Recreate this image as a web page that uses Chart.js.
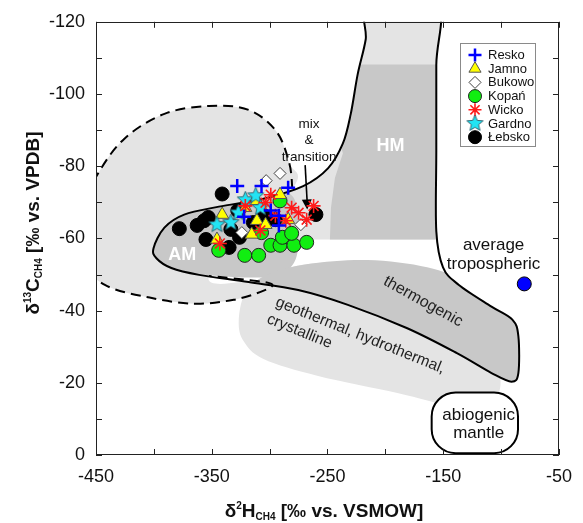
<!DOCTYPE html>
<html>
<head>
<meta charset="utf-8">
<script src="https://cdn.jsdelivr.net/npm/chart.js@4.4.0/dist/chart.umd.min.js"></script>
<style>
  html, body { margin: 0; padding: 0; background: #fff; }
  #wrap { width: 583px; height: 523px; }
</style>
</head>
<body>
<div id="wrap"><canvas id="c" width="583" height="523"></canvas></div>
<script>
// Axis tick labels
const xTickLabels = ['-450', '-350', '-250', '-150', '-50'];
const yTickLabels = ['-120', '-100', '-80', '-60', '-40', '-20', '0'];

// Sampling sites: [δ2H, δ13C]
const seriesNames = ['Resko', 'Jamno', 'Bukowo', 'Kopań', 'Wicko', 'Gardno', 'Łebsko'];
const resko  = [[-328, -74.5], [-307, -74.5], [-284, -74], [-322, -66], [-299, -67.7], [-292, -66.3], [-292, -63.6]];
const jamno  = [[-341, -66.6], [-311, -70.4], [-291, -72.1], [-315.5, -61.1], [-345.5, -59.7], [-311, -64.9], [-303.5, -63.8], [-284, -65.2], [-321, -68.5]];
const bukowo = [[-303, -76], [-291, -78], [-324, -61.6], [-273, -63.8]];
const kopan  = [[-344, -56.7], [-321.5, -55.3], [-309.5, -55.3], [-299, -58.1], [-291, -58.1], [-289, -60.3], [-279, -58.1], [-268, -58.9], [-291, -70.4], [-281, -61.4], [-307, -61.6]];
const wicko  = [[-321, -69], [-299, -72.1], [-303.5, -69.9], [-295, -66.3], [-286, -64.9], [-308, -62.2], [-281, -68.5], [-275, -67.1], [-262, -69], [-268, -65.2], [-343, -58.6]];
const gardno = [[-345.5, -63.8], [-333.5, -64.4], [-321, -70.7], [-312, -71.8], [-327, -67.1], [-308, -68.5]];
const lebsko = [[-341, -72.3], [-378, -62.7], [-362.6, -63.6], [-356.6, -64.9], [-353, -65.8], [-355, -59.7], [-333.5, -62.5], [-335, -57.5], [-327.5, -67.7], [-326, -60.3], [-305, -66.3], [-295, -65.2], [-260, -66.6], [-314, -64.4]];
const troposphere = [[-80, -47.4]];

// Genetic fields, outlined in (δ2H, δ13C)
const mainField = [[-400.3, -57.3], [-390.9, -63], [-373.8, -66.6], [-343.8, -68.8], [-305.3, -71], [-271, -74.5], [-249.6, -79.4], [-236.7, -86.3], [-229.9, -94.5], [-223.9, -105.5], [-217, -115.1], [-214, -125], [-156, -125], [-156, -108], [-156, -84], [-156, -62], [-150.2, -52], [-136.5, -47.1], [-108.3, -41.1], [-90.3, -37.5], [-85.1, -32.9], [-85.1, -22.7], [-91.1, -20.3], [-108.3, -22.7], [-138.2, -28.2], [-181.1, -35.1], [-232.4, -41.6], [-275.3, -45.7], [-318.1, -47.9], [-360.9, -49.9], [-384.9, -51.8], [-397.8, -54.5]];
const dashedField = [[-280.4, -73.7], [-283, -80.8], [-294.1, -89.6], [-318.1, -95.6], [-352.4, -96.7], [-390.9, -94.5], [-425.2, -87.7], [-449.1, -77.5], [-470.6, -63], [-468, -54.8], [-442.3, -47.1], [-403.7, -43.6], [-365.2, -41.9], [-331, -43], [-307.8, -45.2], [-297.5, -47.1], [-311.2, -48.2], [-352.4, -49.6]];
const geoField = [[-326.7, -37], [-321.5, -44.6], [-305.3, -49.3], [-266.7, -52.9], [-206.8, -52.9], [-151.1, -46.6], [-112.5, -34.2], [-100.5, -20.5], [-110.8, -14.2], [-142.5, -13.7], [-189.6, -17.2], [-258.1, -21.9], [-305.3, -26.6], [-322.4, -31.5]];
const mixZone = [[-292.4, -125], [-146.8, -125], [-146.8, -59.7], [-292.4, -59.7]];
const hmCore = [[-258.1, -108.2], [-146.8, -108.2], [-146.8, -59.7], [-247.9, -59.7], [-247, -68.5], [-243.6, -76.7], [-236.7, -83.6]];
const amCore = [[-408, -57.5], [-386.6, -65.7], [-335.2, -69.9], [-283.8, -72.6], [-275.3, -61.6], [-279.6, -52.9], [-301, -49.3], [-360.9, -50.1], [-395.2, -52.9]];
const thermoTop = [[-318.1, -46.6], [-301, -50.1], [-266.7, -52.9], [-215.3, -54], [-163.9, -52], [-129.7, -47.9], [-104, -42.5], [-74, -37]];
const thermoBase = [[-74, -16.4], [-318.1, -16.4]];
const mantleBox = [[-160, -17.3], [-85.4, -0.5]];
const mixArrow = [[-269.3, -80.3], [-267.5, -68]];

const FONT = 'Arial, "Liberation Sans", sans-serif';
const LIGHT = '#e4e4e4';
const DARK = '#c8c8c8';

function toPx(chart, p) {
  return [chart.scales.x.getPixelForValue(p[0]), chart.scales.y.getPixelForValue(p[1])];
}

function traceSpline(ctx, P, closed, startNew) {
  const n = P.length;
  if (startNew) ctx.moveTo(P[0][0], P[0][1]); else ctx.lineTo(P[0][0], P[0][1]);
  const segs = closed ? n : n - 1;
  for (let i = 0; i < segs; i++) {
    const p0 = P[closed ? (i - 1 + n) % n : Math.max(i - 1, 0)];
    const p1 = P[i];
    const p2 = P[(i + 1) % n];
    const p3 = P[closed ? (i + 2) % n : Math.min(i + 2, n - 1)];
    ctx.bezierCurveTo(
      p1[0] + (p2[0] - p0[0]) / 6, p1[1] + (p2[1] - p0[1]) / 6,
      p2[0] - (p3[0] - p1[0]) / 6, p2[1] - (p3[1] - p1[1]) / 6,
      p2[0], p2[1]);
  }
  if (closed) ctx.closePath();
}

function tracePoly(ctx, P) {
  ctx.moveTo(P[0][0], P[0][1]);
  for (let i = 1; i < P.length; i++) ctx.lineTo(P[i][0], P[i][1]);
  ctx.closePath();
}

function richLine(ctx, parts, cx, baseY) {
  let total = 0;
  parts.forEach(p => {
    ctx.font = 'bold ' + p.size + 'px ' + FONT;
    p.w = ctx.measureText(p.t).width;
    total += p.w;
  });
  let x = cx - total / 2;
  ctx.textAlign = 'left';
  ctx.textBaseline = 'alphabetic';
  parts.forEach(p => {
    ctx.font = 'bold ' + p.size + 'px ' + FONT;
    ctx.fillText(p.t, x, baseY + (p.dy || 0));
    x += p.w;
  });
}

// Cyan five-pointed star marker
function makeStar(r, fill, stroke) {
  const c = document.createElement('canvas');
  const s = Math.ceil(r * 2 + 4);
  c.width = s; c.height = s;
  const g = c.getContext('2d');
  g.beginPath();
  for (let i = 0; i < 10; i++) {
    const a = -Math.PI / 2 + i * Math.PI / 5;
    const rr = i % 2 === 0 ? r : r * 0.45;
    const x = s / 2 + rr * Math.cos(a), y = s / 2 + rr * Math.sin(a);
    if (i === 0) g.moveTo(x, y); else g.lineTo(x, y);
  }
  g.closePath();
  g.fillStyle = fill; g.fill();
  g.lineWidth = 0.9; g.strokeStyle = stroke; g.stroke();
  return c;
}
const starImg = makeStar(8.5, '#22e4f4', '#2a5a66');

const fieldsPlugin = {
  id: 'fields',
  beforeDatasetsDraw(chart) {
    const ctx = chart.ctx, a = chart.chartArea;
    const px = arr => arr.map(p => toPx(chart, p));
    ctx.save();
    ctx.beginPath(); ctx.rect(a.left, a.top, a.right - a.left, a.bottom - a.top); ctx.clip();

    // light fields
    ctx.fillStyle = LIGHT;
    ctx.beginPath(); traceSpline(ctx, px(dashedField), true, true); ctx.fill();
    ctx.beginPath(); traceSpline(ctx, px(geoField), true, true); ctx.fill();

    // shading inside the main outline
    ctx.save();
    ctx.beginPath(); traceSpline(ctx, px(mainField), true, true); ctx.clip();
    ctx.fillStyle = LIGHT;
    ctx.beginPath(); tracePoly(ctx, px(mixZone)); ctx.fill();
    ctx.fillStyle = DARK;
    ctx.beginPath(); tracePoly(ctx, px(hmCore)); ctx.fill();
    ctx.beginPath(); traceSpline(ctx, px(amCore), true, true); ctx.fill();
    ctx.beginPath(); traceSpline(ctx, px(thermoTop), false, true);
    px(thermoBase).forEach(p => ctx.lineTo(p[0], p[1])); ctx.closePath(); ctx.fill();
    ctx.restore();

    // outlines
    ctx.lineWidth = 2;
    ctx.strokeStyle = '#000';
    ctx.lineJoin = 'round';
    ctx.beginPath(); traceSpline(ctx, px(mainField), true, true); ctx.stroke();
    ctx.setLineDash([10, 6]);
    ctx.beginPath(); traceSpline(ctx, px(dashedField), false, true); ctx.stroke();
    ctx.setLineDash([]);

    // abiogenic mantle box
    const b0 = toPx(chart, mantleBox[0]), b1 = toPx(chart, mantleBox[1]);
    ctx.beginPath();
    ctx.roundRect(b0[0], b0[1], b1[0] - b0[0], b1[1] - b0[1], 24);
    ctx.fillStyle = '#fff'; ctx.fill();
    ctx.lineWidth = 2; ctx.stroke();

    // mixing arrow
    const a0 = toPx(chart, mixArrow[0]), a1 = toPx(chart, mixArrow[1]);
    ctx.lineWidth = 1.6;
    ctx.beginPath(); ctx.moveTo(a0[0], a0[1]); ctx.lineTo(a1[0], a1[1] - 6); ctx.stroke();
    const ang = Math.atan2(a1[1] - a0[1], a1[0] - a0[0]);
    ctx.beginPath();
    ctx.moveTo(a1[0], a1[1]);
    ctx.lineTo(a1[0] - 10 * Math.cos(ang) + 5 * Math.sin(ang), a1[1] - 10 * Math.sin(ang) - 5 * Math.cos(ang));
    ctx.lineTo(a1[0] - 10 * Math.cos(ang) - 5 * Math.sin(ang), a1[1] - 10 * Math.sin(ang) + 5 * Math.cos(ang));
    ctx.closePath(); ctx.fillStyle = '#000'; ctx.fill();

    // field labels
    const label = (txt, p, font, color, angle, align) => {
      const q = toPx(chart, p);
      ctx.save();
      ctx.translate(q[0], q[1]);
      ctx.rotate((angle || 0) * Math.PI / 180);
      ctx.font = font; ctx.fillStyle = color;
      ctx.textAlign = align || 'center'; ctx.textBaseline = 'middle';
      ctx.fillText(txt, 0, 0);
      ctx.restore();
    };
    label('HM', [-195.6, -85.7], 'bold 18px ' + FONT, '#fff');
    label('AM', [-375.5, -55.5], 'bold 18px ' + FONT, '#fff');
    label('mix', [-265.9, -91.5], '13.5px ' + FONT, '#111');
    label('&', [-265.9, -87.1], '13.5px ' + FONT, '#111');
    label('transition', [-265.9, -82.5], '13.5px ' + FONT, '#111');
    label('thermogenic', [-167.4, -42.5], '16px ' + FONT, '#222', 29);
    label('average', [-106.5, -58.1], '17px ' + FONT, '#111');
    label('tropospheric', [-106.5, -52.9], '17px ' + FONT, '#111');
    label('abiogenic', [-119.4, -10.9], '17px ' + FONT, '#111');
    label('mantle', [-119.4, -6], '17px ' + FONT, '#111');
    const g = toPx(chart, [-294.1, -42.5]);
    ctx.save();
    ctx.translate(g[0], g[1]); ctx.rotate(22 * Math.PI / 180);
    ctx.font = '15.5px ' + FONT; ctx.fillStyle = '#222';
    ctx.textAlign = 'left'; ctx.textBaseline = 'middle';
    ctx.fillText('geothermal, hydrothermal,', 0, 0);
    ctx.fillText('crystalline', -2, 19);
    ctx.restore();

    ctx.restore();
  },
  afterDraw(chart) {
    const ctx = chart.ctx, a = chart.chartArea;
    ctx.save();
    // frame
    ctx.strokeStyle = '#222'; ctx.lineWidth = 1;
    ctx.strokeRect(Math.round(a.left) + 0.5, Math.round(a.top) + 0.5, Math.round(a.right - a.left) - 1, Math.round(a.bottom - a.top) - 1);
    // inward ticks on all four sides
    const T = 6;
    ctx.beginPath();
    chart.scales.x.ticks.forEach(t => {
      const x = Math.round(chart.scales.x.getPixelForValue(t.value)) + 0.5;
      ctx.moveTo(x, a.bottom); ctx.lineTo(x, a.bottom - T);
      ctx.moveTo(x, a.top); ctx.lineTo(x, a.top + T);
    });
    chart.scales.y.ticks.forEach(t => {
      const y = Math.round(chart.scales.y.getPixelForValue(t.value)) + 0.5;
      ctx.moveTo(a.left, y); ctx.lineTo(a.left + T, y);
      ctx.moveTo(a.right, y); ctx.lineTo(a.right - T, y);
    });
    ctx.stroke();

    // axis titles
    ctx.fillStyle = '#111';
    richLine(ctx, [
      { t: 'δ', size: 19 }, { t: '2', size: 10, dy: -8 }, { t: 'H', size: 19 },
      { t: 'CH4', size: 10, dy: 3 }, { t: ' [‰ vs. VSMOW]', size: 19 }
    ], 324, 517);
    ctx.save();
    ctx.translate(39, 223); ctx.rotate(-Math.PI / 2);
    richLine(ctx, [
      { t: 'δ', size: 19 }, { t: '13', size: 10, dy: -8 }, { t: 'C', size: 19 },
      { t: 'CH4', size: 10, dy: 3 }, { t: ' [‰ vs. VPDB]', size: 19 }
    ], 0, 0);
    ctx.restore();

    // legend
    const lx = 460.5, ly = 43.5, lw = 75, lh = 103;
    ctx.fillStyle = '#fff'; ctx.fillRect(lx, ly, lw, lh);
    ctx.strokeStyle = '#8a8a8a'; ctx.lineWidth = 1; ctx.strokeRect(lx, ly, lw, lh);
    chart.data.datasets.slice(0, seriesNames.length).forEach((ds, i) => {
      const y = 55 + i * 13.7;
      ctx.fillStyle = ds.pointBackgroundColor;
      ctx.strokeStyle = ds.pointBorderColor;
      ctx.lineWidth = ds.pointBorderWidth;
      Chart.helpers.drawPoint(ctx, {
        pointStyle: ds.pointStyle, rotation: 0,
        radius: ds.legendRadius, borderWidth: ds.pointBorderWidth
      }, 475, y);
      ctx.fillStyle = '#111';
      ctx.font = '13px ' + FONT;
      ctx.textAlign = 'left'; ctx.textBaseline = 'middle';
      ctx.fillText(ds.label, 488, y + 0.5);
    });
    ctx.restore();
  }
};

const pts = arr => arr.map(([x, y]) => ({ x, y }));
const styles = [
  { pointStyle: 'cross', pointRadius: 7, legendRadius: 6.5, pointBackgroundColor: '#0000ff', pointBorderColor: '#0000ff', pointBorderWidth: 2.5, order: 1 },
  { pointStyle: 'triangle', pointRadius: 7.5, legendRadius: 7, pointBackgroundColor: '#ffff00', pointBorderColor: '#555', pointBorderWidth: 1, order: 4 },
  { pointStyle: 'rectRot', pointRadius: 6, legendRadius: 6, pointBackgroundColor: '#ffffff', pointBorderColor: '#444', pointBorderWidth: 1, order: 5 },
  { pointStyle: 'circle', pointRadius: 7, legendRadius: 6.5, pointBackgroundColor: '#11ee11', pointBorderColor: '#222', pointBorderWidth: 1, order: 6 },
  { pointStyle: 'star', pointRadius: 7, legendRadius: 6.5, pointBackgroundColor: '#ff0000', pointBorderColor: '#ff1a1a', pointBorderWidth: 1.6, order: 2 },
  { pointStyle: starImg, pointRadius: 8, legendRadius: 8, pointBackgroundColor: '#22e4f4', pointBorderColor: '#2a5a66', pointBorderWidth: 1, order: 3 },
  { pointStyle: 'circle', pointRadius: 7, legendRadius: 6.5, pointBackgroundColor: '#000000', pointBorderColor: '#000000', pointBorderWidth: 1, order: 7 }
];
const seriesData = [resko, jamno, bukowo, kopan, wicko, gardno, lebsko];
const datasets = seriesData.map((d, i) => Object.assign({ label: seriesNames[i], data: pts(d) }, styles[i]));
datasets.push({
  label: 'average tropospheric', data: pts(troposphere), pointStyle: 'circle', pointRadius: 7,
  pointBackgroundColor: '#0000ff', pointBorderColor: '#000', pointBorderWidth: 1, order: 8
});

const chart = new Chart(document.getElementById('c'), {
  type: 'scatter',
  data: { datasets },
  plugins: [fieldsPlugin],
  options: {
    responsive: false,
    devicePixelRatio: 1,
    animation: false,
    events: [],
    layout: { padding: { left: 0, right: 20, top: 17, bottom: 0 } },
    plugins: { legend: { display: false }, tooltip: { enabled: false } },
    scales: {
      x: {
        type: 'linear', min: -450, max: -50,
        grid: { display: false, drawTicks: false },
        border: { display: false },
        ticks: {
          stepSize: 50, padding: 11, color: '#111', maxRotation: 0, autoSkip: false,
          font: { size: 18, family: FONT },
          callback: v => (xTickLabels.includes(String(v)) ? String(v) : '')
        },
        afterFit: s => { s.height = 68; }
      },
      y: {
        type: 'linear', min: -120, max: 0, reverse: true,
        grid: { display: false, drawTicks: false },
        border: { display: false },
        ticks: {
          stepSize: 10, padding: 11, color: '#111', autoSkip: false,
          font: { size: 18, family: FONT },
          callback: v => (yTickLabels.includes(String(v)) ? String(v) : '')
        },
        afterFit: s => { s.width = 96; }
      }
    }
  }
});

// Settle the plot frame at 96..563 x 17..455 by nudging the layout padding
const frame = { left: 96, top: 17, right: 563, bottom: 455 };
for (let k = 0; k < 4; k++) {
  const a = chart.chartArea;
  const p = chart.config.options.layout.padding;
  const next = {
    left: p.left + (frame.left - a.left),
    top: p.top + (frame.top - a.top),
    right: p.right + (a.right - frame.right),
    bottom: p.bottom + (a.bottom - frame.bottom)
  };
  if (next.left === p.left && next.top === p.top && next.right === p.right && next.bottom === p.bottom) break;
  chart.config.options.layout.padding = next;
  chart.update();
}
</script>
</body>
</html>
